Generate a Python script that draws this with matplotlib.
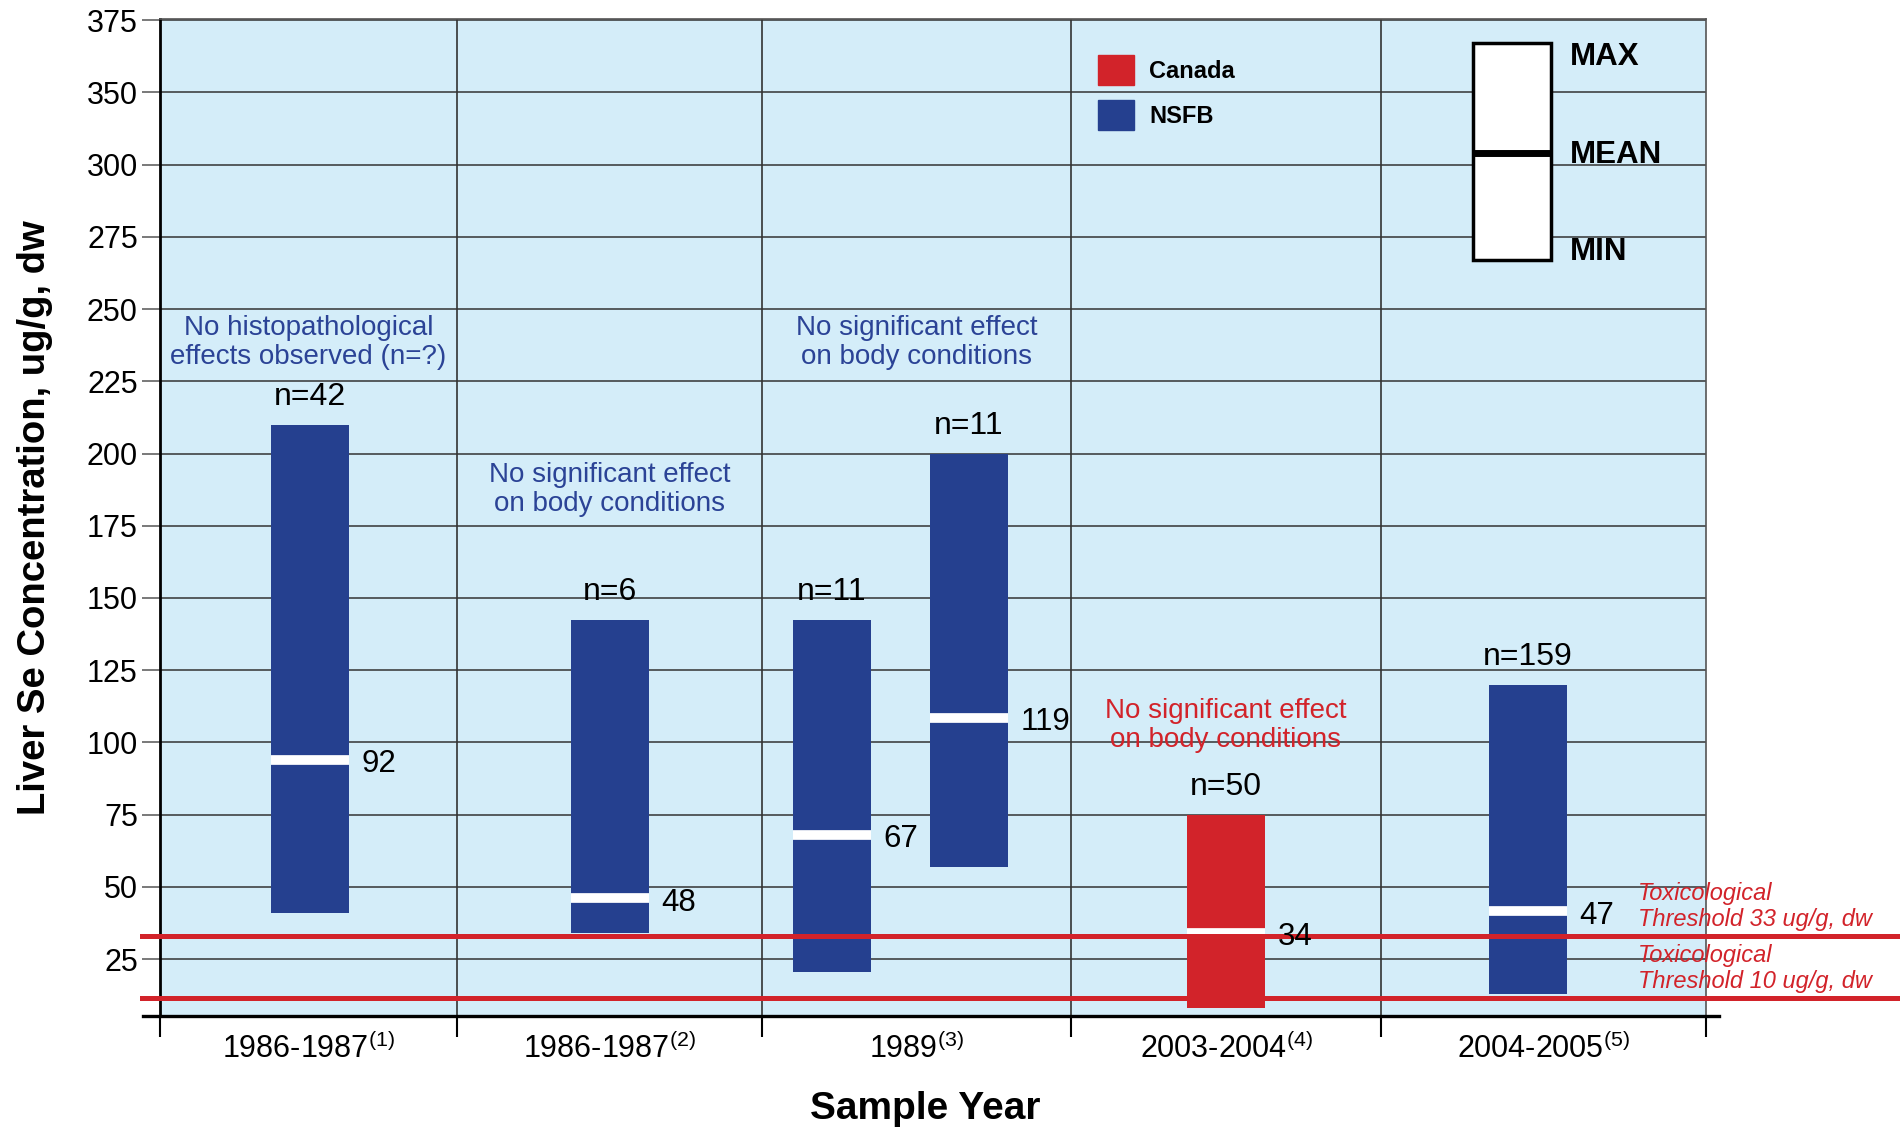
import matplotlib.pyplot as plt
from matplotlib.patches import Rectangle

plt.rcParams['font.family'] = ['Liberation Sans', 'DejaVu Sans']
plt.rcParams['mathtext.fontset'] = 'custom'
plt.rcParams['mathtext.rm'] = 'Liberation Sans'

# values
categories = ['1986-1987', '1986-1987', '1989', '2003-2004', '2004-2005']
footnotes = ['(1)', '(2)', '(3)', '(4)', '(5)']
groups = ['NSFB', 'NSFB', 'NSFB', 'NSFB', 'Canada', 'NSFB']
se_max = [210, 142.5, 142.5, 200, 75, 120]
se_min = [41, 34, 20.5, 57, 8, 13]
se_mean_drawn = [94, 46, 68, 108.5, 34, 41.5]
se_mean_label = [92, 48, 67, 119, 34, 47]
n_samples = [42, 6, 11, 11, 50, 159]
thresholds = [33, 11.5]
threshold_labels = ['Toxicological\nThreshold 33 ug/g, dw',
                    'Toxicological\nThreshold 10 ug/g, dw']
notes = ['No histopathological\neffects observed (n=?)',
         'No significant effect\non body conditions',
         'No significant effect\non body conditions',
         'No significant effect\non body conditions']
note_cols = [0, 1, 2, 3]
note_y = [238.4, 187.6, 238.4, 105.8]
note_group = ['NSFB', 'NSFB', 'NSFB', 'Canada']
y_ticks = list(range(25, 351, 25))
y_tick_labels = ['25', '50', '75', '100', '125', '150', '175', '200',
                 '225', '250', '275', '300', '350', '375']

# layout
col_edges = [0, 297, 602, 911, 1221, 1546]
bar_x = [150, 450, 672, 809, 1066, 1368]
bar_w = 78
colors = {'NSFB': '#25408f', 'Canada': '#d2232a'}
text_colors = {'NSFB': '#2b4396', 'Canada': '#d2232a'}

fig = plt.figure(figsize=(19, 11.28), dpi=100)
ax = fig.add_axes([160 / 1900, 1 - 1016 / 1128, 1546 / 1900, 997 / 1128])
ax.set_facecolor('#d4edf9')
ax.set_xlim(col_edges[0], col_edges[-1])
ax.set_ylim(5.3, 350.4)

# grid
ax.set_yticks(y_ticks)
ax.set_yticklabels(y_tick_labels)
ax.yaxis.grid(True, color='#333333', lw=1.1)
ax.set_axisbelow(True)
for e in col_edges[1:-1]:
    ax.axvline(e, color='#333333', lw=1.2, zorder=1)

# bars
for i in range(len(bar_x)):
    c = colors[groups[i]]
    ax.bar(bar_x[i], se_max[i] - se_min[i], bottom=se_min[i], width=bar_w,
           color=c, zorder=2)
    ax.hlines(se_mean_drawn[i], bar_x[i] - bar_w / 2, bar_x[i] + bar_w / 2,
              colors='white', lw=7, zorder=2.5)
    ax.annotate('n=%d' % n_samples[i], xy=(bar_x[i], se_max[i]), xytext=(0, 14),
                textcoords='offset points', ha='center', va='baseline', fontsize=23,
                zorder=4)
    ax.annotate(str(se_mean_label[i]), xy=(bar_x[i] + bar_w / 2, se_mean_drawn[i]),
                xytext=(9, -3), textcoords='offset points', ha='left', va='center',
                fontsize=22.5, zorder=4)

# thresholds
for t, lab in zip(thresholds, threshold_labels):
    ax.axhline(t, xmin=-18 / 1546, xmax=1.13, color='#d2232a', lw=3.6,
               clip_on=False, zorder=3)
    ax.annotate(lab, xy=(1478, t), xytext=(0, 3.5), textcoords='offset points',
                ha='left', va='bottom', fontsize=17, style='italic',
                color='#d2232a', linespacing=1.18, annotation_clip=False, zorder=4)

# notes
for txt, col, y, g in zip(notes, note_cols, note_y, note_group):
    xc = (col_edges[col] + col_edges[col + 1]) / 2
    ax.text(xc, y, txt, ha='center', va='center', fontsize=20,
            color=text_colors[g], linespacing=1.12, zorder=4)

# legend: groups
for y0, g in [(327.7, 'Canada'), (312.1, 'NSFB')]:
    ax.add_patch(Rectangle((938, y0), 36, 10.4, color=colors[g], zorder=4))
    ax.text(989, y0 + 4.4, g, ha='left', va='center', fontsize=17,
            fontweight='bold', zorder=4)

# legend: max / mean / min
ax.add_patch(Rectangle((1313, 267), 78, 75, facecolor='white', edgecolor='black',
                       lw=2.5, zorder=4))
ax.hlines(304, 1313, 1391, colors='black', lw=5, zorder=5)
for y, lab in [(337.2, 'MAX'), (303.2, 'MEAN'), (269.8, 'MIN')]:
    ax.text(1410, y, lab, ha='left', va='center', fontsize=22.5, fontweight='bold',
            zorder=5)

# axes styling
ax.spines['bottom'].set_visible(False)
ax.spines['left'].set_color('black')
ax.spines['left'].set_linewidth(2)
for s in ['top', 'right']:
    ax.spines[s].set_color('#555555')
    ax.spines[s].set_linewidth(1.2)
ax.plot([-17 / 1546, 1559 / 1546], [0, 0], transform=ax.transAxes, color='black',
        lw=2.4, clip_on=False, zorder=5)

ax.tick_params(axis='y', length=13, width=1.1, color='#555555', labelsize=22, pad=3)
ax.set_xticks(col_edges)
ax.set_xticklabels([])
ax.tick_params(axis='x', which='major', length=15, width=1.5, color='black')
centers = [(a + b) / 2 for a, b in zip(col_edges[:-1], col_edges[1:])]
ax.set_xticks(centers, minor=True)
ax.set_xticklabels([c + r'$^{\mathrm{%s}}$' % f for c, f in zip(categories, footnotes)],
                   minor=True)
ax.tick_params(axis='x', which='minor', length=0, labelsize=22, pad=12)

ax.set_xlabel('Sample Year', fontsize=28, fontweight='bold')
ax.xaxis.set_label_coords(0.495, -0.075)
ax.set_ylabel('Liver Se Concentration, ug/g, dw', fontsize=27.5, fontweight='bold')
ax.yaxis.set_label_coords(-0.069, 0.5)

fig.savefig('out.png', dpi=100)
